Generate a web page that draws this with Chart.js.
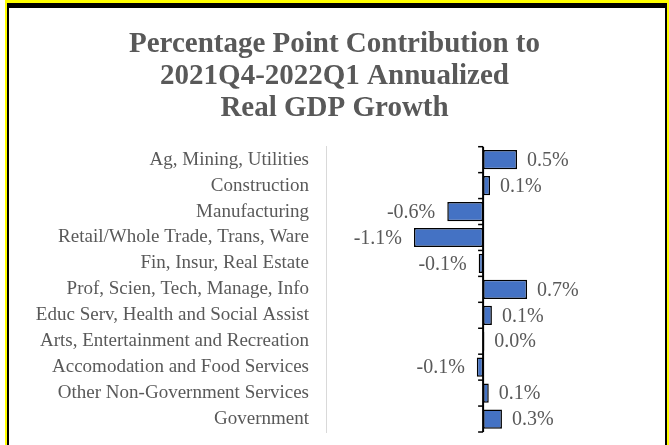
<!DOCTYPE html>
<html>
<head>
<meta charset="utf-8">
<script src="https://cdn.jsdelivr.net/npm/chart.js@4.4.0/dist/chart.umd.min.js"></script>
<style>
  html, body { margin: 0; padding: 0; background: #fff; }
  #wrap { position: relative; width: 669px; height: 445px; overflow: hidden; }
  #wrap canvas { position: absolute; left: 0; top: 0; }
  /* yellow / black frame, cut off at the bottom like the original */
  #frame {
    position: absolute; left: 5px; top: 0; width: 660px; height: 470px;
    border-top: 3px solid #ffff00; border-left: 2px solid #ffff00; border-right: 2px solid #ffff00;
    pointer-events: none;
  }
  #frame div {
    position: absolute; left: 0; top: 0; right: 0; bottom: 0;
    border-top: 5px solid #000; border-left: 2px solid #000; border-right: 2px solid #000;
  }
</style>
</head>
<body>
<div id="wrap">
  <canvas id="gdpChart" width="669" height="445"></canvas>
  <div id="frame"><div></div></div>
</div>
<script>
// --- DATA ---
const titleLines = ['Percentage Point Contribution to', '2021Q4-2022Q1 Annualized', 'Real GDP Growth'];
const sectors = [
    'Ag, Mining, Utilities',
    'Construction',
    'Manufacturing',
    'Retail/Whole Trade, Trans, Ware',
    'Fin, Insur, Real Estate',
    'Prof, Scien, Tech, Manage, Info',
    'Educ Serv, Health and Social Assist',
    'Arts, Entertainment and Recreation',
    'Accomodation and Food Services',
    'Other Non-Government Services',
    'Government'
];
const contributions = [0.54, 0.11, -0.57, -1.10, -0.07, 0.70, 0.14, 0.02, -0.10, 0.09, 0.30];

const TEXT_GRAY = '#595959';
const SERIF = '"Liberation Serif", "Times New Roman", serif';

// --- PLUGINS ---
// black zero line with little tick marks at the category boundaries
const zeroAxis = {
    id: 'zeroAxis',
    afterDatasetsDraw(chart) {
        const { ctx, chartArea, scales } = chart;
        const x0 = scales.x.getPixelForValue(0);
        const band = (chartArea.bottom - chartArea.top) / sectors.length;
        ctx.save();
        ctx.strokeStyle = '#000';
        ctx.lineWidth = 2;
        ctx.beginPath();
        ctx.moveTo(x0, chartArea.top);
        ctx.lineTo(x0, chartArea.bottom);
        ctx.stroke();
        ctx.lineWidth = 1.5;
        for (let i = 0; i <= sectors.length; i++) {
            const y = chartArea.top + i * band;
            ctx.beginPath();
            ctx.moveTo(x0 - 5, y);
            ctx.lineTo(x0, y);
            ctx.stroke();
        }
        ctx.restore();
    }
};

// value labels next to the bar ends
const valueLabels = {
    id: 'valueLabels',
    afterDatasetsDraw(chart) {
        const { ctx } = chart;
        const meta = chart.getDatasetMeta(0);
        ctx.save();
        ctx.font = '20px ' + SERIF;
        ctx.fillStyle = TEXT_GRAY;
        ctx.textBaseline = 'middle';
        meta.data.forEach((bar, i) => {
            const v = contributions[i];
            const txt = v.toFixed(1) + '%';
            if (v >= 0) {
                ctx.textAlign = 'left';
                ctx.fillText(txt, Math.max(bar.x, bar.base) + 10, bar.y + 1);
            } else {
                ctx.textAlign = 'right';
                ctx.fillText(txt, Math.min(bar.x, bar.base) - 12, bar.y + 1);
            }
        });
        ctx.restore();
    }
};

// --- CHART ---
new Chart(document.getElementById('gdpChart'), {
    type: 'bar',
    data: {
        labels: sectors,
        datasets: [{
            data: contributions,
            backgroundColor: '#4472C4',
            borderColor: '#000',
            borderWidth: 1.5,
            borderSkipped: false,
            barPercentage: 0.74,
            categoryPercentage: 1
        }]
    },
    options: {
        indexAxis: 'y',
        responsive: false,
        animation: false,
        layout: { padding: { left: 20, right: 20, top: 0, bottom: 13 } },
        plugins: {
            legend: { display: false },
            tooltip: { enabled: false },
            title: {
                display: true,
                text: titleLines,
                color: TEXT_GRAY,
                font: { family: SERIF, size: 29, weight: 'bold', lineHeight: 1.1 },
                padding: { top: 29, bottom: 22 }
            }
        },
        scales: {
            x: {
                display: false,
                min: -2.5,
                max: 2.64
            },
            y: {
                grid: { display: false, drawTicks: false },
                border: { display: true, color: '#d9d9d9', width: 1 },
                ticks: {
                    color: TEXT_GRAY,
                    font: { family: SERIF, size: 19 },
                    padding: 17,
                    autoSkip: false
                },
                afterFit(scale) {
                    scale.width = 306;
                    scale.paddingTop = 0;
                    scale.paddingBottom = 0;
                }
            }
        }
    },
    plugins: [zeroAxis, valueLabels]
});
</script>
</body>
</html>
